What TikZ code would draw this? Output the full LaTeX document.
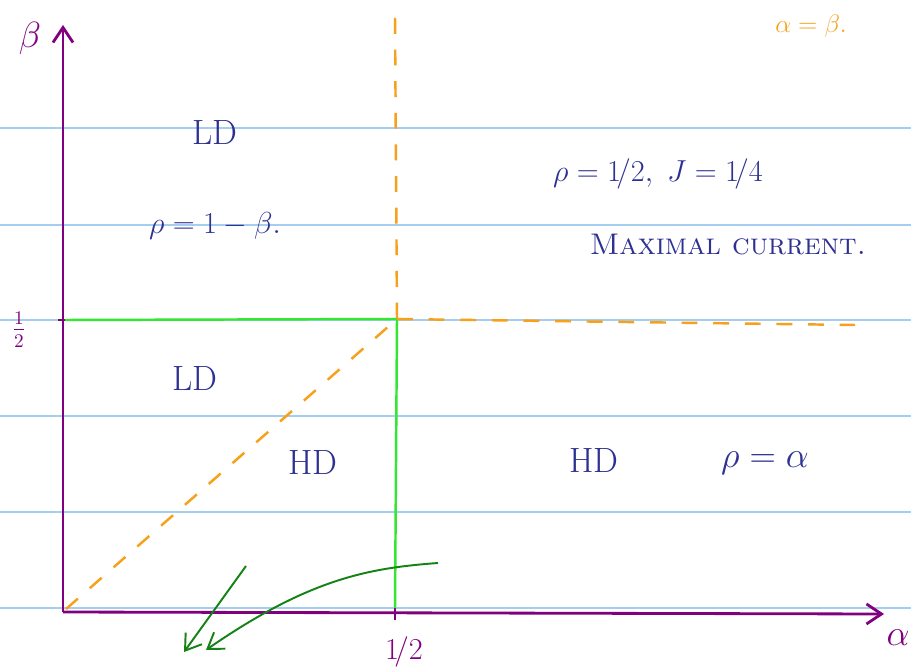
\documentclass[tikz,border=0pt]{standalone}
\usepackage{amsmath}
\definecolor{inkpurple}{RGB}{128,0,128}
\definecolor{inkblue}{RGB}{46,49,146}
\definecolor{inkorange}{RGB}{247,161,26}
\definecolor{inkgreen}{RGB}{50,230,50}
\definecolor{inkdkgreen}{RGB}{20,130,20}
\definecolor{ruleblue}{RGB}{165,205,240}
\usetikzlibrary{arrows.meta,positioning}
\tikzset{
  ruled/.style={ruleblue, line width=0.9pt},
  axisline/.style={inkpurple, line width=1.6pt, -{Straight Barb[length=3mm,width=4mm]}},
  phaseline/.style={inkgreen, line width=1.4pt},
  crossover/.style={inkorange, line width=1.4pt, dash pattern=on 9pt off 9pt},
  note/.style={inkblue, font=\fontsize{20}{24}\selectfont},
  axislabel/.style={inkpurple, font=\fontsize{22}{26}\selectfont},
  pointer/.style={inkdkgreen, line width=1.1pt, -{Straight Barb[length=3mm,width=4mm]}}
}

\begin{document}
\begin{tikzpicture}[x=0.02cm, y=-0.02cm]
  \useasboundingbox (0,0) rectangle (911,668);
  \fill[white] (0,0) rectangle (911,668);

  % ruled paper
  \foreach \yy in {128,225,320,416,512,608}
    \draw[ruled] (0,\yy) -- (911,\yy);

  % axes
  \coordinate (origin) at (63,612);
  \coordinate (betatop) at (63,25);
  \coordinate (alphaend) at (884,614);
  \draw[axisline] (origin) -- (betatop);
  \draw[axisline] (origin) -- (alphaend);
  \node[axislabel] (betalab) at (30,38) {$\beta$};
  \node[axislabel] (alphalab) at (898,638) {$\alpha$};
  \draw[inkpurple, line width=1.4pt] (58,320) -- (68,320);
  \draw[inkpurple, line width=1.4pt] (395,606) -- (395,620);
  \node[inkpurple, font=\fontsize{16}{18}\selectfont] (halfb) at (19,330) {$\frac{1}{2}$};
  \node[inkpurple, font=\fontsize{16}{18}\selectfont] (halfa) at (404,652) {$1\!/2$};

  % phase boundaries
  \coordinate (corner) at (397,319);
  \draw[phaseline] (65,320) -- (corner) -- (395,608);
  \draw[crossover] (395,18) -- (corner);
  \draw[crossover] (corner) -- (855,325);
  \draw[crossover] (66,609) -- (corner);
  \node[inkorange, font=\fontsize{15}{17}\selectfont] (diag) at (811,26) {$\alpha=\beta.$};

  % regions
  \node[note] (ldtop) at (215,133) {LD};
  \node[note, font=\fontsize{17}{20}\selectfont] (ldrho) at (215,226) {$\rho=1-\beta.$};
  \node[note, font=\fontsize{17}{20}\selectfont] (mcrho) at (658,174) {$\rho=1\!/2,\ J=1\!/4$};
  \node[note, font=\fontsize{17}{20}\selectfont] (mctext) at (728,245) {\textsc{Maximal current.}};
  \node[note] (ldlow) at (195,378) {LD};
  \node[note] (hdlow) at (313,462) {HD};
  \node[note] (hdright) at (594,460) {HD};
  \node[note] (hdrho) at (765,463) {$\rho=\alpha$};

  % pointers
  \coordinate (p1start) at (246,566);
  \coordinate (p1end) at (184,652);
  \coordinate (p2start) at (438,563);
  \coordinate (p2end) at (206,650);
  \draw[pointer] (p1start) -- (p1end);
  \draw[pointer] (p2start) .. controls (370,568) and (310,578) .. (p2end);
\end{tikzpicture}
\end{document}
